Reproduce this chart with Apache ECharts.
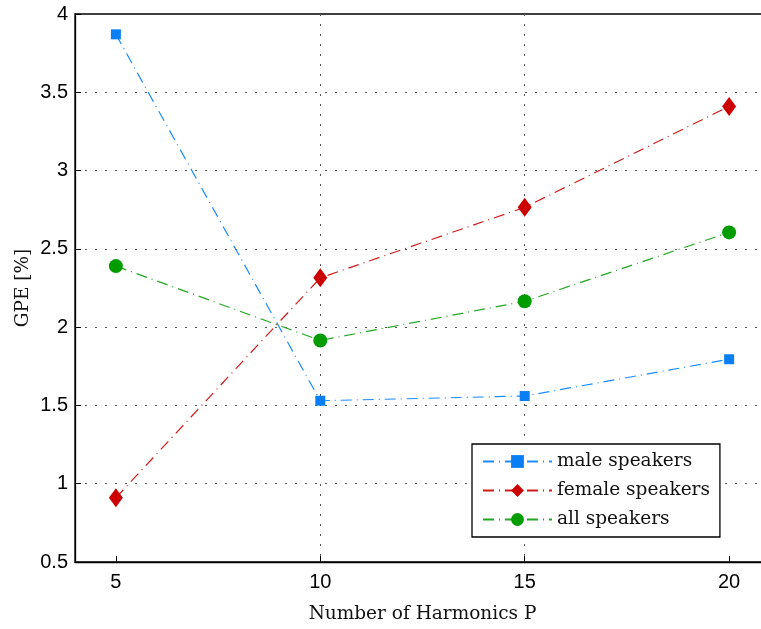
<!DOCTYPE html>
<html>
<head>
<meta charset="utf-8">
<script src="https://cdn.jsdelivr.net/npm/echarts@6/dist/echarts.min.js"></script>
<style>
  html, body { margin: 0; padding: 0; background: #fff; }
  #chart { width: 761px; height: 629px; }
</style>
</head>
<body>
<div id="chart"></div>
<script>
// harmonics P on the x axis
var harmonics = [5, 10, 15, 20];
var xTicks = [5, 10, 15, 20];
// GPE [%] per speaker group
var male = [3.87, 1.53, 1.56, 1.795];
var female = [0.91, 2.315, 2.765, 3.41];
var all = [2.39, 1.915, 2.165, 2.605];

var serif = "DejaVu Serif";
var sans = "Liberation Sans";
var dashDot = [11, 5, 1, 5];

function pairs(vals) {
  return harmonics.map(function (h, i) { return [h, vals[i]]; });
}

var chart = echarts.init(document.getElementById("chart"));

var option = {
  animation: false,
  grid: {
    left: 75, top: 14, width: 695, height: 548,
    outerBoundsMode: "none",
    show: true,
    borderColor: "#000",
    borderWidth: 1.3,
    backgroundColor: "transparent"
  },
  legend: {
    orient: "vertical",
    left: 472,
    top: 444,
    padding: [8, 10, 8, 10],
    itemGap: 10,
    itemWidth: 69,
    itemHeight: 16,
    borderColor: "#000",
    borderWidth: 1.3,
    backgroundColor: "#fff",
    textStyle: { fontFamily: serif, fontSize: 18.5, color: "#111" },
    data: ["male speakers", "female speakers", "all speakers"]
  },
  xAxis: {
    type: "value",
    min: 4,
    max: 21,
    name: "Number of Harmonics P",
    nameLocation: "middle",
    nameGap: 43,
    nameTextStyle: { fontFamily: serif, fontSize: 18.5, color: "#111" },
    axisLine: { lineStyle: { color: "#000", width: 1.3 } },
    axisTick: { inside: true, length: 6, customValues: xTicks, lineStyle: { color: "#000" } },
    axisLabel: { customValues: xTicks, fontFamily: sans, fontSize: 20, color: "#000", margin: 10 },
    splitLine: { show: true, showMinLine: false, showMaxLine: false, lineStyle: { color: "#555", type: [2, 8], width: 1 } }
  },
  yAxis: {
    type: "value",
    min: 0.5,
    max: 4,
    interval: 0.5,
    name: "GPE [%]",
    nameLocation: "middle",
    nameGap: 42,
    nameMoveOverlap: false,
    nameTextStyle: { fontFamily: serif, fontSize: 18.5, color: "#111" },
    axisLine: { show: true, lineStyle: { color: "#000", width: 1.3 } },
    axisTick: { show: true, inside: true, length: 6, lineStyle: { color: "#000" } },
    axisLabel: { fontFamily: sans, fontSize: 20, color: "#000", margin: 7 },
    splitLine: { show: true, showMaxLine: false, lineStyle: { color: "#555", type: [2, 8], width: 1 } }
  },
  series: [
    {
      name: "male speakers",
      type: "line",
      data: pairs(male),
      symbol: "rect",
      symbolSize: 10,
      itemStyle: { color: "#0a7ff5" },
      lineStyle: { color: "#1a8cff", width: 1.2, type: dashDot }
    },
    {
      name: "female speakers",
      type: "line",
      data: pairs(female),
      symbol: "diamond",
      symbolSize: [14, 19],
      itemStyle: { color: "#cc0000" },
      lineStyle: { color: "#d01a1a", width: 1.2, type: dashDot }
    },
    {
      name: "all speakers",
      type: "line",
      data: pairs(all),
      symbol: "circle",
      symbolSize: 14,
      itemStyle: { color: "#009c00" },
      lineStyle: { color: "#22a822", width: 1.2, type: dashDot }
    }
  ]
};

chart.setOption(option);
</script>
</body>
</html>
